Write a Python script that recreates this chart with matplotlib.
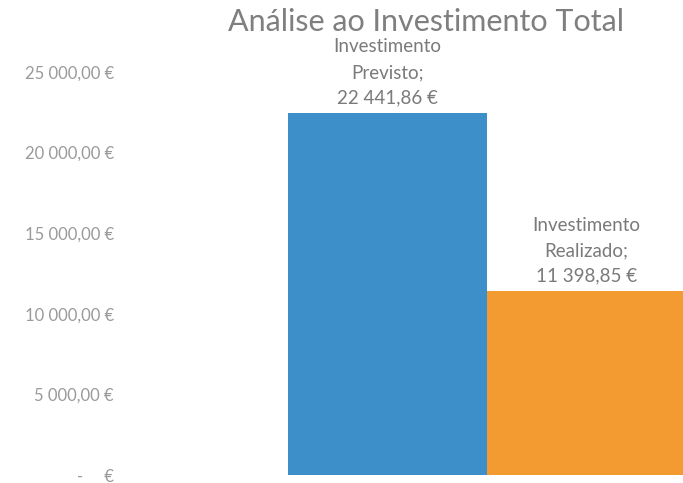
import matplotlib
matplotlib.use("Agg")
import matplotlib.pyplot as plt

categories = ["Investimento Previsto", "Investimento Realizado"]
label_lines = ["Investimento\nPrevisto;", "Investimento\nRealizado;"]
values = [22441.86, 11398.85]
yticks = [0, 5000, 10000, 15000, 20000, 25000]
colors = ["#3d8fca", "#f39a30"]
title = "Análise ao Investimento Total"

def eur(v):
    if v == 0:
        return "-     €"
    s = f"{v:,.2f}"
    s = s.replace(",", " ").replace(".", ",")
    return s + " €"

W, H = 683, 483
fig = plt.figure(figsize=(W / 100, H / 100), dpi=100)
fig.patch.set_facecolor("white")
ax_left, ax_bottom, ax_right, ax_top = 125, 475, 683, 72
ax = fig.add_axes([ax_left / W, (H - ax_bottom) / H,
                   (ax_right - ax_left) / W, (ax_bottom - ax_top) / H])

x = list(range(len(values)))
ax.bar(x, values, width=1.0, color=colors, edgecolor="none")

px_per_unit = 199
xmin = -0.5 - (288 - ax_left) / px_per_unit
xmax = xmin + (ax_right - ax_left) / px_per_unit
ax.set_xlim(xmin, xmax)
ax.set_ylim(0, 25000)

ax.set_yticks(yticks)
ax.set_yticklabels([eur(v) for v in yticks], fontfamily="Lato", fontsize=12,
                   color="#9a9a9a")
ax.tick_params(axis="y", length=0, pad=8)
ax.set_xticks([])
for s in ax.spines.values():
    s.set_visible(False)

for xi, v, lab in zip(x, values, label_lines):
    ax.annotate(f"{lab}\n{eur(v)}", xy=(xi, v), xytext=(0, 5),
                textcoords="offset points", ha="center", va="bottom",
                fontfamily="Lato", fontsize=13.5,
                color="#7a7a7a", linespacing=1.6, annotation_clip=False)

fig.text(426 / W, 1 - 22 / H, title, ha="center", va="center",
         fontfamily="Lato", fontsize=22, color="#7f7f7f")

fig.savefig("out.png", dpi=100, facecolor="white")
